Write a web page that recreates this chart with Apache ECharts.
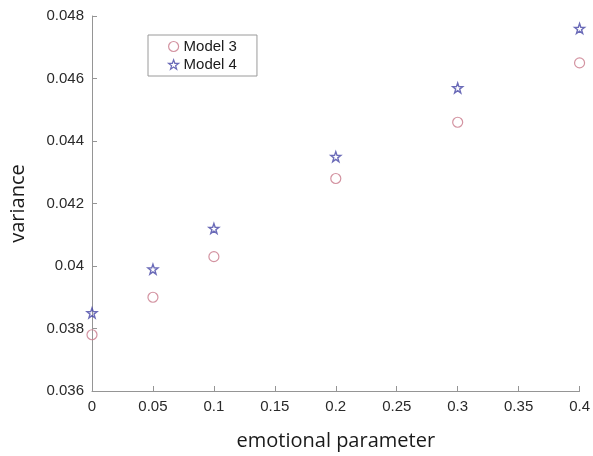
<!DOCTYPE html>
<html><head><meta charset="utf-8">
<script src="https://cdn.jsdelivr.net/npm/echarts@6/dist/echarts.min.js"></script>
<style>html,body{margin:0;padding:0;background:#fff}#c{width:593px;height:456px}</style>
</head><body><div id="c"></div>
<script>
const xValues = [0, 0.05, 0.1, 0.2, 0.3, 0.4];
const model3 = [0.0378, 0.0390, 0.0403, 0.0428, 0.0446, 0.0465];
const model4 = [0.0385, 0.0399, 0.0412, 0.0435, 0.0457, 0.0476];
const seriesNames = ['Model 3', 'Model 4'];
const xTickLabels = ['0','0.05','0.1','0.15','0.2','0.25','0.3','0.35','0.4'];
const yTickLabels = ['0.036','0.038','0.04','0.042','0.044','0.046','0.048'];

const starPath = 'path://M100,0 L123.5,67.6 L195.1,69.1 L138,112.4 L158.8,180.9 L100,140 L41.2,180.9 L62,112.4 L4.9,69.1 L76.5,67.6 Z';
const chart = echarts.init(document.getElementById('c'), null, {renderer:'canvas'});
const axisGray = '#959595';
const labelFont = {color:'#2a2a2a', fontFamily:'Liberation Sans, Arial, sans-serif', fontSize:15};
const circleColor = '#c8788a';
const starColor = '#4646a6';
chart.setOption({
  animation:false,
  backgroundColor:'#fff',
  grid:{left:92, right:12, top:16, bottom:54, containLabel:false},
  legend:{
    left:148, top:35, orient:'vertical',
    data:[
      {name:seriesNames[0], icon:'circle', itemStyle:{color:'transparent', borderColor:circleColor, borderWidth:1.2}},
      {name:seriesNames[1], icon:starPath, itemStyle:{color:'transparent', borderColor:starColor, borderWidth:1.2}}
    ],
    borderColor:'#9a9a9a', borderWidth:1, borderRadius:0,
    padding:[4,20,4,20], itemGap:3, itemWidth:10, itemHeight:10,
    textStyle:{color:'#1a1a1a', fontFamily:'Liberation Sans, Arial, sans-serif', fontSize:15}
  },
  xAxis:{
    type:'value', min:0, max:0.4, interval:0.05,
    name:'emotional parameter', nameLocation:'middle', nameGap:40,
    nameTextStyle:{color:'#1a1a1a', fontFamily:'Open Sans, sans-serif', fontSize:20},
    axisLine:{show:true, lineStyle:{color:axisGray, width:1}},
    axisTick:{show:true, inside:true, length:5, lineStyle:{color:axisGray}},
    splitLine:{show:false},
    axisLabel:Object.assign({margin:8, formatter:(v)=>{const i=Math.round(v/0.05);return xTickLabels[i]!==undefined?xTickLabels[i]:'';}}, labelFont)
  },
  yAxis:{
    type:'value', min:0.036, max:0.048, interval:0.002,
    name:'variance', nameLocation:'middle', nameGap:64, nameRotate:90,
    nameTextStyle:{color:'#1a1a1a', fontFamily:'Open Sans, sans-serif', fontSize:20},
    axisLine:{show:true, lineStyle:{color:axisGray, width:1}},
    axisTick:{show:true, inside:true, length:5, lineStyle:{color:axisGray}},
    splitLine:{show:false},
    axisLabel:Object.assign({margin:8, formatter:(v)=>{const i=Math.round((v-0.036)/0.002);return yTickLabels[i]!==undefined?yTickLabels[i]:'';}}, labelFont)
  },
  series:[
    {name:seriesNames[0], type:'scatter', symbol:'circle', symbolSize:10,
     itemStyle:{color:'transparent', borderColor:circleColor, borderWidth:1.2},
     data:xValues.map((x,i)=>[x, model3[i]])},
    {name:seriesNames[1], type:'scatter', symbol:starPath, symbolSize:10,
     itemStyle:{color:'transparent', borderColor:starColor, borderWidth:1.4},
     data:xValues.map((x,i)=>[x, model4[i]])}
  ]
});
</script></body></html>
